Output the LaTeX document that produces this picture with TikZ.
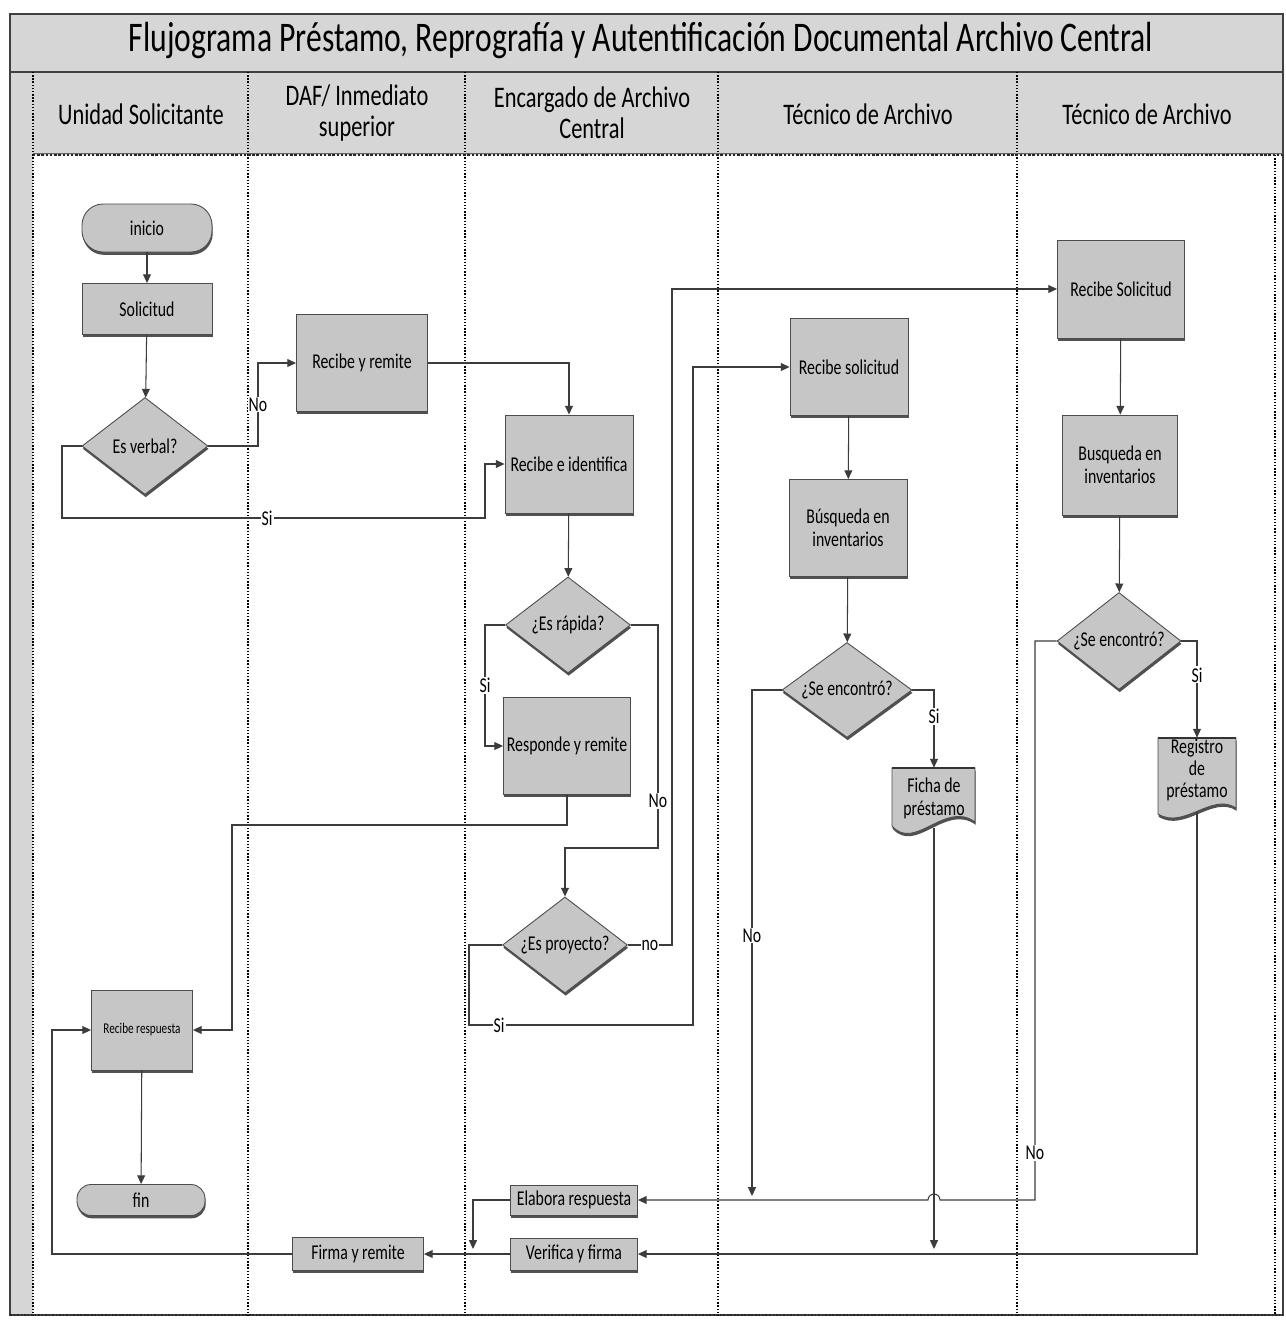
\documentclass[tikz,border=0pt]{standalone}
\usepackage{fontspec}
\setmainfont{Carlito}[FakeStretch=0.75]
\usetikzlibrary{shapes.geometric,arrows.meta,shadows}
\definecolor{bandgray}{HTML}{D6D6D6}
\definecolor{nodegray}{HTML}{C6C6C6}
\definecolor{lnclr}{HTML}{3C3C3C}
\newcommand{\myNfont}{\fontsize{12}{13}\selectfont}
\newcommand{\myHfont}{\fontsize{17}{17.5}\selectfont}
\newcommand{\myTfont}{\fontsize{24}{26}\selectfont}
\newcommand{\zw}[1]{\makebox[0pt]{#1}}
\tikzset{
  div/.style={draw=black, line width=0.8pt, densely dotted},
  nodebase/.style={draw=black!70, fill=nodegray, line width=0.5pt,
    drop shadow={shadow xshift=0.4pt, shadow yshift=-1.6pt, fill=black!80, opacity=0.85},
    inner sep=1pt, align=center, font=\myNfont},
  proc/.style={nodebase, rectangle},
  term/.style={nodebase, rectangle, rounded corners=12pt},
  dec/.style={nodebase, diamond, inner sep=0pt},
  doctext/.style={inner sep=0pt, align=center, font=\myNfont},
  docshape/.style={draw=black!70, fill=nodegray, line width=0.5pt,
    drop shadow={shadow xshift=0.4pt, shadow yshift=-1.6pt, fill=black!80, opacity=0.85}},
  conn/.style={draw=lnclr, line width=0.6pt},
  arr/.style={conn, -{Triangle[length=5pt,width=4.5pt]}},
  lbl/.style={fill=white, inner sep=0.6pt, font=\myNfont},
  hdr/.style={font=\myHfont, align=center, inner sep=0pt},
}
\begin{document}
\begin{tikzpicture}[x=0.02cm, y=-0.02cm]
\useasboundingbox (0,0) rectangle (1286,1320);
\fill[white] (0,0) rectangle (1286,1320);
% title band and header
\fill[bandgray] (10,14) rectangle (1283,155);
\fill[bandgray] (10,155) rectangle (33,1315);
\draw[black!75, line width=0.6pt] (10,14) rectangle (1283,1315);
\draw[black!75, line width=0.6pt] (10,72) -- (1283,72);
\node[font=\myTfont, inner sep=0pt] (title) at (641,40) {Flujograma Préstamo, Reprografía y Autentificación Documental Archivo Central};
% lane dividers
\foreach \xx in {33,248,465,718,1017}{
  \draw[div] (\xx,72) -- (\xx,1315);
}
\draw[div] (1275,155) -- (1275,1315);
\draw[black!85, line width=1.4pt, densely dotted] (33,155) -- (1283,155);
\draw[black!60, line width=0.5pt] (33,153) -- (1283,153);
\draw[black!85, line width=1pt, densely dotted] (10,1315) -- (1283,1315);
\node[hdr] (h1) at (141,114) {Unidad Solicitante};
\node[hdr] (h2) at (357,113) {DAF/ Inmediato\\superior};
\node[hdr] (h3) at (592,113) {Encargado de Archivo\\Central};
\node[hdr] (h4) at (868,114) {Técnico de Archivo};
\node[hdr] (h5) at (1147,114) {Técnico de Archivo};

% nodes lane 1
\node[term, minimum width=2.6cm, minimum height=0.96cm] (inicio) at (147,228) {inicio};
\node[proc, minimum width=2.6cm, minimum height=1.02cm] (solic) at (147,309) {Solicitud};
\node[dec, minimum width=2.52cm, minimum height=1.94cm] (verbal) at (145,446) {\zw{Es verbal?}};
\node[proc, minimum width=2.02cm, minimum height=1.6cm] (recresp) at (142,1030) {\fontsize{8.5}{9}\selectfont Recibe respuesta};
\node[term, minimum width=2.56cm, minimum height=0.62cm, rounded corners=8pt] (fin) at (141,1200) {fin};
% lane 2
\node[proc, minimum width=2.62cm, minimum height=1.94cm] (rr) at (362,363) {Recibe y remite};
\node[proc, minimum width=2.62cm, minimum height=0.66cm] (firma) at (358,1254) {Firma y remite};
% lane 3
\node[proc, minimum width=2.56cm, minimum height=1.96cm] (ri) at (569,464) {Recibe e identifica};
\node[dec, minimum width=2.5cm, minimum height=1.92cm] (rapida) at (568,625) {\zw{¿Es rápida?}};
\node[proc, minimum width=2.54cm, minimum height=1.94cm] (resp) at (567,746) {Responde y remite};
\node[dec, minimum width=2.5cm, minimum height=1.92cm] (proy) at (565,945) {\zw{¿Es proyecto?}};
\node[proc, minimum width=2.54cm, minimum height=0.6cm] (elab) at (574,1200) {Elabora respuesta};
\node[proc, minimum width=2.54cm, minimum height=0.64cm] (verif) at (574,1254) {Verifica y firma};
% lane 4
\node[proc, minimum width=2.36cm, minimum height=1.94cm] (rs4) at (849,367) {Recibe solicitud};
\node[proc, minimum width=2.36cm, minimum height=1.94cm] (bus4) at (848,528) {Búsqueda en\\inventarios};
\node[dec, minimum width=2.6cm, minimum height=1.9cm] (enc4) at (847,690) {\zw{¿Se encontró?}};
\path[docshape] (892,768) -- (975,768) -- (975,822) .. controls (945,800) and (915,852) .. (892,826) -- cycle;
\draw[black!80, line width=1.1pt] (892,768) -- (975,768);
\node[doctext, minimum width=1.66cm, minimum height=1.2cm] (ficha) at (934,798) {Ficha de\\préstamo};
% lane 5
\node[proc, minimum width=2.54cm, minimum height=1.96cm] (rs5) at (1121,289) {Recibe Solicitud};
\node[proc, minimum width=2.3cm, minimum height=2.0cm] (bus5) at (1120,465) {Busqueda en\\inventarios};
\node[dec, minimum width=2.48cm, minimum height=1.94cm] (enc5) at (1119,641) {\zw{¿Se encontró?}};
\path[docshape] (1158,738) -- (1236,738) -- (1236,808) .. controls (1212,792) and (1184,830) .. (1158,814) -- cycle;
\draw[black!80, line width=1.1pt] (1158,738) -- (1236,738);
\node[doctext, minimum width=1.56cm, minimum height=1.48cm] (reg) at (1197,775) {};
\node[doctext, font=\fontsize{12}{12.5}\selectfont] (regtxt) at (1197,770) {Registro\\de\\préstamo};

% free ends
\coordinate (n4end) at (752,1196);
\coordinate (f4end) at (934,1249);
\coordinate (e3end) at (473,1249);

% connectors
\draw[arr] (inicio) -- (solic);
\draw[arr] (solic) -- (verbal);
\draw[arr] (verbal.east) -- (258,446) -- node[lbl] (lno1) {No} (258,363) -- (rr.west);
\draw[arr] (verbal.west) -- (62,446) -- (62,518) -- node[lbl, pos=0.485] (lsi1) {Si} (485,518) -- (485,464) -- (ri.west);
\draw[arr] (rr.east) -| (ri.north);
\draw[arr] (ri) -- (rapida);
\draw[arr] (rapida.west) -- (485,625) -- node[lbl] (lsi2) {Si} (485,746) -- (resp.west);
\draw[arr] (rapida.east) -- (658,625) -- node[lbl, pos=0.79] (lno2) {No} (658,848) -- (565,848) -- (proy.north);
\draw[arr] (proy.east) -- node[lbl] (lno3) {no} (672,945) -- (672,289) -- (rs5.west);
\draw[arr] (proy.west) -- (469,945) -- (469,1025) -- node[lbl, pos=0.134] (lsi3) {Si} (693,1025) -- (693,367) -- (rs4.west);
\draw[arr] (resp.south) -- (567,825) -- (232,825) -- (232,1030) -- (recresp.east);
\draw[arr] (recresp) -- (fin);
\draw[arr] (rs4) -- (bus4);
\draw[arr] (bus4) -- (enc4);
\draw[arr] (enc4.east) -- (934,690) -- node[lbl, pos=0.34] (lsi4) {Si} (ficha.north);
\draw[arr] (enc4.west) -- (752,690) -- node[lbl, pos=0.485] (lno4) {No} (n4end);
\draw[arr] (ficha.south) -- (f4end);
\draw[arr] (rs5) -- (bus5);
\draw[arr] (bus5) -- (enc5);
\draw[arr] (enc5.east) -- (1197,641) -- node[lbl, pos=0.35] (lsi5) {Si} (reg.north);
\draw[arr] (enc5.west) -- (1035,641) -- node[lbl, pos=0.916] (lno5) {No} (1035,1200) -- (940,1200) arc[start angle=0, end angle=180, radius=0.12cm] -- (elab.east);
\draw[arr] (reg.south) |- (verif.east);
\draw[arr] (elab.west) -- (473,1200) -- (e3end);
\draw[arr] (verif.west) -- (firma.east);
\draw[arr] (firma.west) -- (52,1254) -- (52,1030) -- (recresp.west);
\end{tikzpicture}
\end{document}
